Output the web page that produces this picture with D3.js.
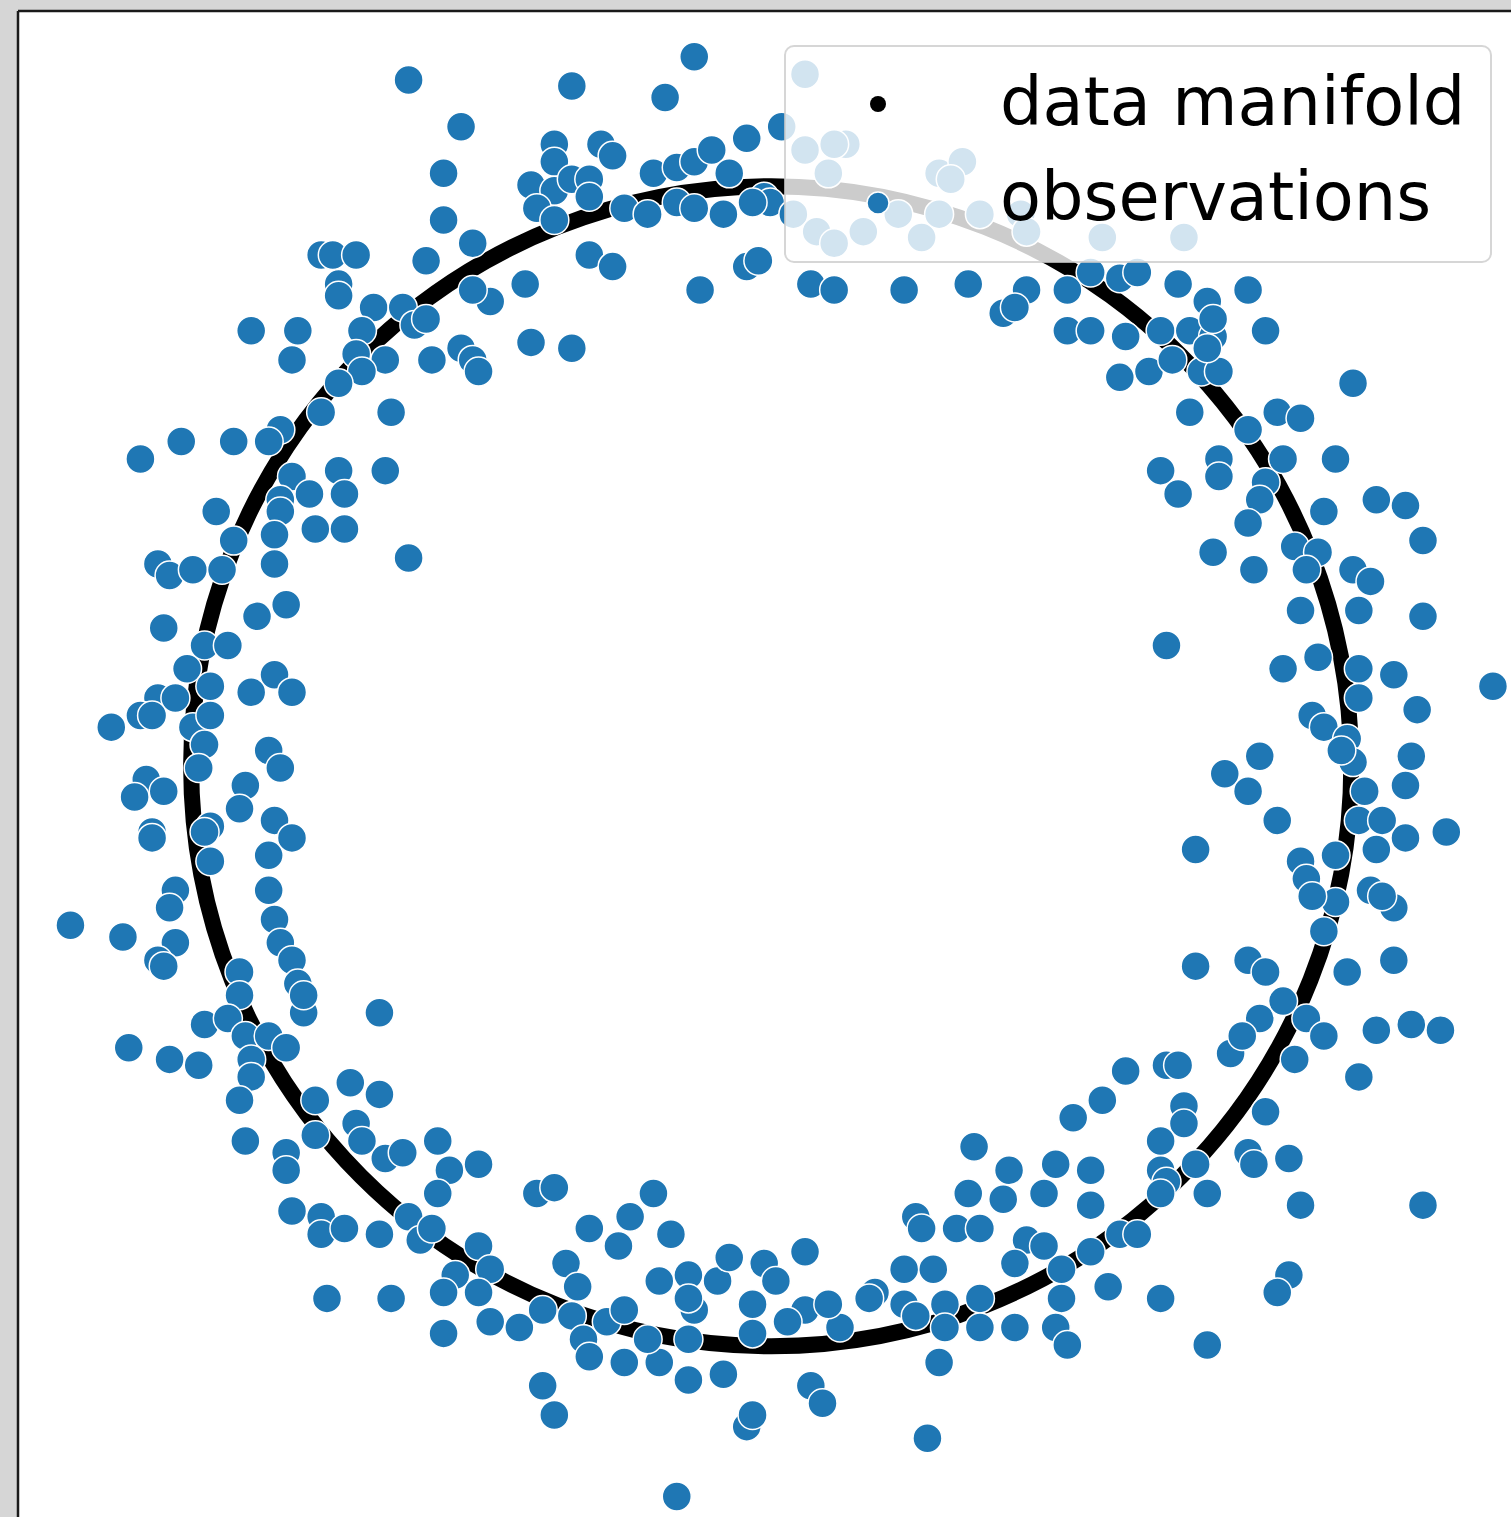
<!DOCTYPE html>
<html>
<head>
<meta charset="utf-8">
<script src="https://cdn.jsdelivr.net/npm/d3@7"></script>
<style>
  body { margin: 0; background: #d6d6d6; }
</style>
</head>
<body>
<div id="chart"></div>
<script>
// observations (noisy samples around the unit circle)
const obsX = [
  -0.13, -0.62, -0.34, -0.18, -0.53, -0.37, -0.37, -0.29, -0.27, -0.04,
  0.02, -0.56, -0.41, -0.37, -0.34, -0.31, -0.31, -0.20, -0.16, -0.13,
  -0.10, -0.07, -0.40, -0.37, -0.25, -0.21, -0.16, -0.13, -0.08, -0.01,
  0.00, -0.03, -0.56, -0.51, -0.59, -0.31, -0.27, -0.04, -0.02, -0.42,
  -0.12, -0.48, -0.51, -0.77, -0.75, -0.71, -0.74, -0.74, -0.68, -0.63,
  -0.61, -0.59, -0.70, -0.89, -0.81, -0.82, -0.71, -0.66, -0.70, -0.74,
  -0.58, -0.53, -0.51, -0.50, -0.41, -0.34, -0.77, -0.65, -0.84, -0.86,
  -0.92, -1.01, -1.08, -0.82, -0.74, -0.66, -0.79, -0.73, -0.84, -0.84,
  -0.95, -0.92, -0.85, -0.78, -0.73, -0.85, -0.62, -1.05, -1.03, -0.99,
  -0.94, -1.04, -0.88, -0.83, -0.97, -0.93, -1.00, -0.96, -0.89, -0.85,
  -0.82, -1.05, -1.02, -1.08, -1.06, -1.13, -0.99, -0.96, -0.97, -0.86,
  0.06, 0.06, 0.13, 0.11, 0.10, 0.04, 0.08, 0.11, 0.16, 0.22,
  0.26, 0.29, 0.33, 0.29, 0.36, 0.43, 0.44, 0.57, 0.71, 0.31,
  0.07, 0.11, 0.23, 0.34, 0.40, 0.44, 0.42, 0.51, 0.55, 0.60,
  0.63, 0.70, 0.75, 0.82, 0.51, 0.55, 0.61, 0.67, 0.72, 0.76,
  0.85, 0.60, 0.65, 0.69, 0.74, 0.77, 1.00, 0.72, 0.82, 0.87,
  0.91, 0.67, 0.70, 0.77, 0.77, 0.85, 0.88, 0.97, 0.84, 0.82,
  0.95, 1.04, 1.09, 1.12, 0.76, 0.83, 0.90, 0.94, 0.92, 1.00,
  1.03, 0.91, 1.01, 1.12, 0.68, 0.88, 0.94, 1.01, 1.07, 1.24,
  0.93, 0.95, 1.01, 1.11, 0.84, 0.99, 0.78, 0.82, 1.02, 1.01,
  1.05, 1.09, 1.16, 0.87, 1.09, 1.04, 0.97, 0.73, 0.91, 0.92,
  0.97, 1.03, 1.07, 0.95, 0.73, 0.82, 0.85, 0.99, 1.07, 1.00,
  1.10, 0.98, 0.93, 1.05, 0.76, 0.75,
  0.88, 0.84, 0.92, 0.95, 0.90, 1.04, 1.10, 1.15, 1.01, 0.79,
  0.81, 0.61, 0.68, 0.70, 0.57, 0.52, 0.71, 0.71, 0.67, 0.85,
  0.82, 0.83, 0.89, 0.41, 0.49, 0.55, 0.47, 0.55, 0.67, 0.68,
  0.73, 0.75, 0.67, 0.91, 1.12, 0.44, 0.47, 0.60, 0.63, 0.55,
  0.50, 0.42, 0.58, 0.50, 0.67, 0.89, 0.87, 0.42, 0.49, 0.51, 0.75,
  0.35, 0.34, 0.40, 0.25, 0.26, 0.32, 0.36, 0.23, 0.28, 0.18,
  0.23, 0.25, 0.30, 0.30, 0.36, 0.36, 0.29, 0.27, 0.12, 0.17,
  -0.40, -0.37, -0.20, -0.31, -0.24, -0.26, -0.17, -0.35, -0.33, -0.19,
  -0.14, -0.09, -0.07, -0.01, 0.01, 0.06, -0.43, -0.39, -0.34, -0.32,
  -0.31, -0.28, -0.25, -0.13, -0.03, -0.03, 0.06, 0.10, -0.25, -0.19,
  -0.14, -0.08, -0.39, -0.37, -0.04, -0.03, -0.16, 0.07, 0.09, -0.14, -0.21, -0.14, 0.03,
  -1.07, -1.09, -1.04, -1.06, -1.06, -0.98, -0.90, -0.91, -0.96, -0.97,
  -0.96, -0.85, -0.82, -0.86, -0.84, -1.02, -1.03, -1.02, -1.05, -1.04,
  -1.20, -1.11, -0.86, -0.85, -0.84, -0.82, -0.81, -0.80, -0.80, -0.91,
  -0.91, -0.97, -0.93, -0.90, -0.86, -0.83, -0.89, -0.89, -0.91, -1.10,
  -1.03, -0.98, -0.67, -0.78, -0.78, -0.72, -0.67, -0.71, -0.70, -0.66,
  -0.63, -0.90, -0.83, -0.83, -0.57, -0.50, -0.55, -0.57, -0.82, -0.77,
  -0.77, -0.73, -0.67, -0.62, -0.60, -0.58, -0.50, -0.48, -0.54, -0.50,
  -0.56, -0.48, -0.76, -0.65, -0.56
]
const obsY = [
  1.22, 1.18, 1.17, 1.15, 1.10, 1.07, 1.04, 1.07, 1.05, 1.08,
  1.10, 1.02, 1.00, 0.99, 1.01, 1.01, 0.98, 1.02, 1.03, 1.04,
  1.06, 1.02, 0.96, 0.94, 0.96, 0.95, 0.97, 0.96, 0.95, 0.98,
  0.97, 0.97, 0.94, 0.90, 0.87, 0.88, 0.86, 0.86, 0.87, 0.83,
  0.82, 0.80, 0.82, 0.88, 0.88, 0.88, 0.83, 0.81, 0.79, 0.79,
  0.76, 0.77, 0.75, 0.75, 0.75, 0.70, 0.71, 0.70, 0.68, 0.66,
  0.70, 0.72, 0.70, 0.68, 0.73, 0.72, 0.61, 0.61, 0.58, 0.56,
  0.56, 0.56, 0.53, 0.50, 0.51, 0.51, 0.47, 0.47, 0.46, 0.44,
  0.44, 0.39, 0.40, 0.41, 0.41, 0.35, 0.36, 0.35, 0.33, 0.34,
  0.34, 0.24, 0.26, 0.28, 0.21, 0.21, 0.17, 0.14, 0.13, 0.16,
  0.13, 0.12, 0.12, 0.09, 0.09, 0.07, 0.07, 0.09, 0.04, 0.03,
  1.19, 1.06, 1.07, 1.07, 1.02, 0.95, 0.92, 0.90, 0.92, 0.95,
  0.91, 1.02, 1.04, 0.95, 0.95, 0.95, 0.92, 0.91, 0.91, 1.01,
  0.83, 0.82, 0.82, 0.83, 0.78, 0.82, 0.79, 0.82, 0.85, 0.84,
  0.85, 0.83, 0.80, 0.82, 0.75, 0.75, 0.74, 0.75, 0.75, 0.74,
  0.75, 0.67, 0.68, 0.70, 0.68, 0.68, 0.66, 0.61, 0.58, 0.61,
  0.60, 0.51, 0.47, 0.53, 0.50, 0.49, 0.53, 0.53, 0.46, 0.42,
  0.44, 0.46, 0.45, 0.39, 0.37, 0.34, 0.38, 0.37, 0.34, 0.34,
  0.32, 0.27, 0.27, 0.26, 0.21, 0.17, 0.19, 0.17, 0.16, 0.14,
  0.09, 0.07, 0.12, 0.10, 0.02, 0.05, -0.01, -0.04, -0.04, -0.09,
  -0.09, -0.03, -0.11, -0.09, -0.12, -0.14, -0.15, -0.14, -0.16, -0.19,
  -0.23, -0.21, -0.24, -0.28, -0.34, -0.33, -0.35, -0.35, -0.33, 0.01,
  0.02, 0.03, -0.22, -0.22, 0.77, 0.72,
  -0.40, -0.43, -0.43, -0.46, -0.50, -0.45, -0.44, -0.45, -0.53, -0.49,
  -0.46, -0.52, -0.51, -0.51, -0.57, -0.60, -0.58, -0.61, -0.64, -0.59,
  -0.66, -0.68, -0.67, -0.69, -0.68, -0.69, -0.73, -0.75, -0.69, -0.71,
  -0.68, -0.73, -0.73, -0.75, -0.75, -0.81, -0.82, -0.80, -0.80, -0.83,
  -0.86, -0.85, -0.89, -0.91, -0.91, -0.87, -0.90, -0.96, -0.96, -0.99, -0.99,
  -0.65, -0.73, -0.74, -0.77, -0.79, -0.79, -0.79, -0.86, -0.86, -0.90,
  -0.92, -0.94, -0.92, -0.96, -0.91, -0.96, -1.02, -1.15, -0.96, -0.91,
  -0.73, -0.72, -0.73, -0.79, -0.77, -0.82, -0.80, -0.85, -0.89, -0.88,
  -0.87, -0.88, -0.84, -0.85, -0.88, -0.83, -0.96, -0.93, -0.94, -0.98,
  -1.01, -0.95, -0.93, -0.93, -0.92, -0.97, -0.93, -0.92, -1.02, -1.02,
  -1.05, -1.04, -1.06, -1.11, -1.13, -1.11, -1.25, -1.06, -1.09, -0.91, -0.98, -0.98, -0.95,
  -0.02, -0.05, -0.04, -0.11, -0.12, 0.00, -0.03, -0.07, -0.10, -0.11,
  -0.16, -0.09, -0.12, -0.15, 0.00, -0.21, -0.24, -0.30, -0.33, -0.34,
  -0.27, -0.29, -0.21, -0.26, -0.30, -0.33, -0.37, -0.42, -0.39, -0.35,
  -0.39, -0.44, -0.43, -0.46, -0.46, -0.48, -0.50, -0.53, -0.57, -0.48,
  -0.50, -0.51, -0.42, -0.57, -0.63, -0.54, -0.56, -0.61, -0.64, -0.67,
  -0.66, -0.64, -0.66, -0.69, -0.64, -0.68, -0.69, -0.73, -0.76, -0.77,
  -0.80, -0.79, -0.80, -0.77, -0.81, -0.79, -0.82, -0.86, -0.87, -0.90,
  -0.90, -0.95, -0.91, -0.91, -0.97
]

// the data manifold: a circle
const manifoldCenter = [0.002, 0.003]
const manifoldRadius = 0.995

const legendLabels = ["data manifold", "observations"]

const width = 1511, height = 1517
const axLeft = 18, axTop = 11

var svg = d3.select("#chart").append("svg")
    .attr("width", width)
    .attr("height", height)

svg.append("rect")
    .attr("width", width).attr("height", height)
    .attr("fill", "#d6d6d6")

svg.append("defs").append("clipPath").attr("id", "axclip")
  .append("rect")
    .attr("x", axLeft).attr("y", axTop)
    .attr("width", width - axLeft).attr("height", height - axTop)

svg.append("rect")
    .attr("x", axLeft).attr("y", axTop)
    .attr("width", width - axLeft).attr("height", height - axTop)
    .attr("fill", "white")

const x = d3.scaleLinear().domain([-1.29, 1.271]).range([axLeft, width])
const y = d3.scaleLinear().domain([-1.285, 1.2985]).range([height, axTop])

const g = svg.append("g").attr("clip-path", "url(#axclip)")

g.append("ellipse")
    .attr("cx", x(manifoldCenter[0]))
    .attr("cy", y(manifoldCenter[1]))
    .attr("rx", x(manifoldRadius) - x(0))
    .attr("ry", y(0) - y(manifoldRadius))
    .attr("fill", "none")
    .attr("stroke", "black")
    .attr("stroke-width", 16)

const obs = obsX.map((v, i) => ({x: v, y: obsY[i]}))

g.selectAll("circle.obs")
  .data(obs)
  .enter().append("circle")
    .attr("class", "obs")
    .attr("cx", d => x(d.x))
    .attr("cy", d => y(d.y))
    .attr("r", 14.5)
    .attr("fill", "#1f77b4")
    .attr("stroke", "white")
    .attr("stroke-width", 1.5)

// spines
svg.append("line")
    .attr("x1", axLeft).attr("x2", axLeft)
    .attr("y1", axTop).attr("y2", height)
    .attr("stroke", "#1a1a1a").attr("stroke-width", 2.5)
svg.append("line")
    .attr("x1", axLeft).attr("x2", width)
    .attr("y1", axTop).attr("y2", axTop)
    .attr("stroke", "#1a1a1a").attr("stroke-width", 2.5)

// legend
const legend = svg.append("g").attr("class", "legend")
legend.append("rect")
    .attr("x", 785).attr("y", 46)
    .attr("width", 706).attr("height", 216)
    .attr("rx", 9)
    .attr("fill", "white").attr("fill-opacity", 0.8)
    .attr("stroke", "#cccccc").attr("stroke-opacity", 0.8)
    .attr("stroke-width", 2)

legend.append("circle")
    .attr("cx", 878).attr("cy", 104).attr("r", 8)
    .attr("fill", "black")
legend.append("circle")
    .attr("cx", 878).attr("cy", 203).attr("r", 11)
    .attr("fill", "#1f77b4").attr("stroke", "white").attr("stroke-width", 1.5)

legend.selectAll("text")
  .data(legendLabels)
  .enter().append("text")
    .attr("x", 1000)
    .attr("y", (d, i) => 125 + i * 95)
    .attr("font-family", "DejaVu Sans")
    .attr("font-size", 67)
    .attr("fill", "black")
    .text(d => d)
</script>
</body>
</html>
